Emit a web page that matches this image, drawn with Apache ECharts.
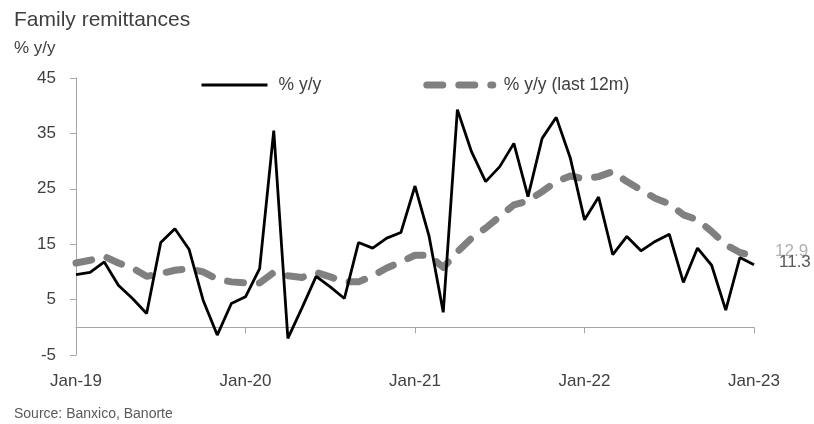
<!DOCTYPE html>
<html>
<head>
<meta charset="utf-8">
<script src="https://cdn.jsdelivr.net/npm/echarts@6/dist/echarts.min.js"></script>
<style>
  html, body { margin: 0; padding: 0; background: #fff; }
  #chart { width: 814px; height: 424px; }
</style>
</head>
<body>
<div id="chart"></div>
<script>
// Monthly categories Jan-19 .. Jan-23
const monthNames = ['Jan','Feb','Mar','Apr','May','Jun','Jul','Aug','Sep','Oct','Nov','Dec'];
const categories = [];
for (let y = 19; y <= 23; y++) {
  for (let m = 0; m < 12; m++) {
    if (y === 23 && m > 0) break;
    categories.push(monthNames[m] + '-' + y);
  }
}

// Family remittances, % y/y
const yoy = [
  9.5, 9.9, 11.8, 7.6, 5.2, 2.5, 15.3, 17.8, 14.1, 4.9, -1.4, 4.3,
  5.5, 10.6, 35.5, -2.0, 3.5, 9.2, 7.3, 5.2, 15.3, 14.3, 16.1, 17.1,
  25.5, 16.4, 2.7, 39.3, 31.7, 26.3, 29.0, 33.2, 23.6, 34.1, 37.9, 30.5,
  19.4, 23.5, 13.1, 16.4, 13.8, 15.5, 16.8, 8.1, 14.3, 11.2, 3.1, 12.6,
  11.3
];

// Family remittances, % y/y of last 12 months
const yoy12m = [
  11.6, 12.1, 12.8, 11.6, 10.7, 9.2, 9.7, 10.3, 10.6, 10.0, 8.7, 8.2,
  8.0, 8.0, 9.9, 9.3, 9.0, 9.9, 9.1, 8.2, 8.2, 9.3, 10.7, 11.8,
  13.0, 13.0, 10.8, 13.6, 16.1, 17.9, 20.0, 22.1, 22.8, 24.5, 26.3, 27.3,
  26.8, 27.2, 28.1, 26.3, 24.8, 23.3, 22.3, 20.3, 19.4, 17.3, 14.9, 13.5,
  12.9
];

const yTicks = { min: -5, max: 45, step: 10 };
const seriesNames = ['% y/y', '% y/y (last 12m)'];

const FONT = '"Liberation Sans", Arial, sans-serif';
const TXT = '#404040';
const AX = '#a6a6a6';
const GRAY = '#808080';
const GRAY_DASH = [16, 16];

const chart = echarts.init(document.getElementById('chart'), null, { renderer: 'canvas' });

const yearTick = (i) => i % 12 === 0;

chart.setOption({
  animation: false,
  backgroundColor: '#fff',
  textStyle: { fontFamily: FONT },
  title: [
    { text: 'Family remittances', left: 9, top: 5,
      textStyle: { fontFamily: FONT, fontSize: 21, fontWeight: 'normal', color: TXT } },
    { text: '% y/y', left: 9, top: 35,
      textStyle: { fontFamily: FONT, fontSize: 17, fontWeight: 'normal', color: TXT } },
    { text: 'Source: Banxico, Banorte', left: 9, top: 402,
      textStyle: { fontFamily: FONT, fontSize: 14, fontWeight: 'normal', color: '#595959' } }
  ],
  legend: {
    top: 71, left: 195,
    itemWidth: 66, itemHeight: 14, itemGap: 102,
    textStyle: { fontFamily: FONT, fontSize: 17.5, color: TXT, padding: [0, 0, 0, 6] },
    itemStyle: { opacity: 0 },
    data: [
      { name: seriesNames[0], lineStyle: { color: '#000', width: 3 } },
      { name: seriesNames[1], lineStyle: { color: GRAY, width: 7, type: GRAY_DASH, cap: 'round' } }
    ]
  },
  grid: { left: 76, right: 60, top: 78, bottom: 69, containLabel: false },
  xAxis: [
    {
      type: 'category', data: categories, boundaryGap: false,
      axisLine: { onZero: true, lineStyle: { color: AX, width: 1 } },
      axisTick: { show: true, inside: false, length: 6, interval: (i) => yearTick(i) && i > 0,
        lineStyle: { color: AX } },
      axisLabel: { show: false },
      splitLine: { show: false }
    },
    {
      type: 'category', data: categories, boundaryGap: false, position: 'bottom',
      axisLine: { show: false, onZero: false },
      axisTick: { show: false },
      axisLabel: {
        interval: (i) => yearTick(i), margin: 18,
        fontFamily: FONT, fontSize: 17, color: TXT
      },
      splitLine: { show: false }
    }
  ],
  yAxis: {
    type: 'value', min: yTicks.min, max: yTicks.max, interval: yTicks.step,
    axisLine: { show: true, lineStyle: { color: AX, width: 1 } },
    axisTick: { show: true, length: 6, lineStyle: { color: AX } },
    axisLabel: { margin: 20, fontFamily: FONT, fontSize: 17, color: TXT },
    splitLine: { show: false }
  },
  series: [
    {
      name: seriesNames[0], type: 'line', data: yoy, symbol: 'none',
      xAxisIndex: 0, z: 3,
      lineStyle: { color: '#000', width: 2.8 },
      itemStyle: { color: '#000', opacity: 0 },
      endLabel: {
        show: true, distance: 25, offset: [0, -2],
        formatter: (p) => p.value.toFixed(1),
        fontFamily: FONT, fontSize: 17, color: '#595959'
      }
    },
    {
      name: seriesNames[1], type: 'line', data: yoy12m, symbol: 'none',
      xAxisIndex: 0, z: 2,
      lineStyle: { color: GRAY, width: 7, type: GRAY_DASH, cap: 'round', join: 'round' },
      itemStyle: { color: GRAY, opacity: 0 },
      endLabel: {
        show: true, distance: 21, offset: [0, -5],
        formatter: (p) => p.value.toFixed(1),
        fontFamily: FONT, fontSize: 17, color: '#b0b0b0'
      }
    }
  ]
});
</script>
</body>
</html>
